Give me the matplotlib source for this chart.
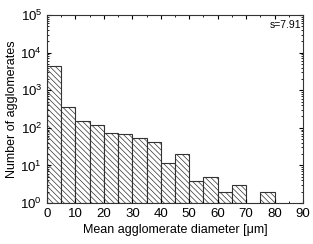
import matplotlib
matplotlib.use("Agg")
import matplotlib.pyplot as plt
import numpy as np
from matplotlib.ticker import LogLocator, MultipleLocator, NullFormatter

plt.rcParams['font.family'] = ['Liberation Sans', 'DejaVu Sans']
plt.rcParams['hatch.linewidth'] = 0.5
plt.rcParams['hatch.color'] = '#555555'

bin_left = [0, 5, 10, 15, 20, 25, 30, 35, 40, 45, 50, 55, 60, 65, 70, 75]
counts = [4400, 365, 152, 121, 74, 68, 54, 42, 11.4, 20, 3.8, 4.8, 2, 3, 0, 2]
bin_width = 5
x_ticks = [0, 10, 20, 30, 40, 50, 60, 70, 80, 90]

fig = plt.figure(figsize=(3.13, 2.44), dpi=100)
ax = fig.add_axes([47/313, 1-203/244, 256/313, 188/244])

for xl, c in zip(bin_left, counts):
    if c <= 1:
        continue
    ax.bar(xl, c - 1, width=bin_width, align='edge', bottom=1, facecolor='white',
           edgecolor='#333333', linewidth=0.8, hatch='\\\\\\\\\\\\')

ax.set_yscale('log')
ax.set_ylim(1, 1e5)
ax.set_xlim(0, 90)
ax.set_xticks(x_ticks)
ax.xaxis.set_minor_locator(MultipleLocator(5))
ax.yaxis.set_major_locator(LogLocator(base=10, numticks=10))
ax.yaxis.set_minor_locator(LogLocator(base=10, subs=np.arange(2, 10), numticks=20))
ax.yaxis.set_minor_formatter(NullFormatter())
ax.tick_params(which='both', direction='in', top=True, right=True, labelsize=9.5)
ax.tick_params(which='major', length=3, width=0.8)
ax.tick_params(which='minor', length=1.5, width=0.6)
for s in ax.spines.values():
    s.set_linewidth(0.8)
    s.set_color('#333333')

ax.set_xlabel('Mean agglomerate diameter [\u03bcm]', fontsize=9, labelpad=3)
ax.set_ylabel('Number of agglomerates', fontsize=9, labelpad=2)
ax.text(0.995, 0.975, 's=7.91', transform=ax.transAxes, ha='right', va='top', fontsize=7.5)

fig.savefig('out.png', dpi=100)
